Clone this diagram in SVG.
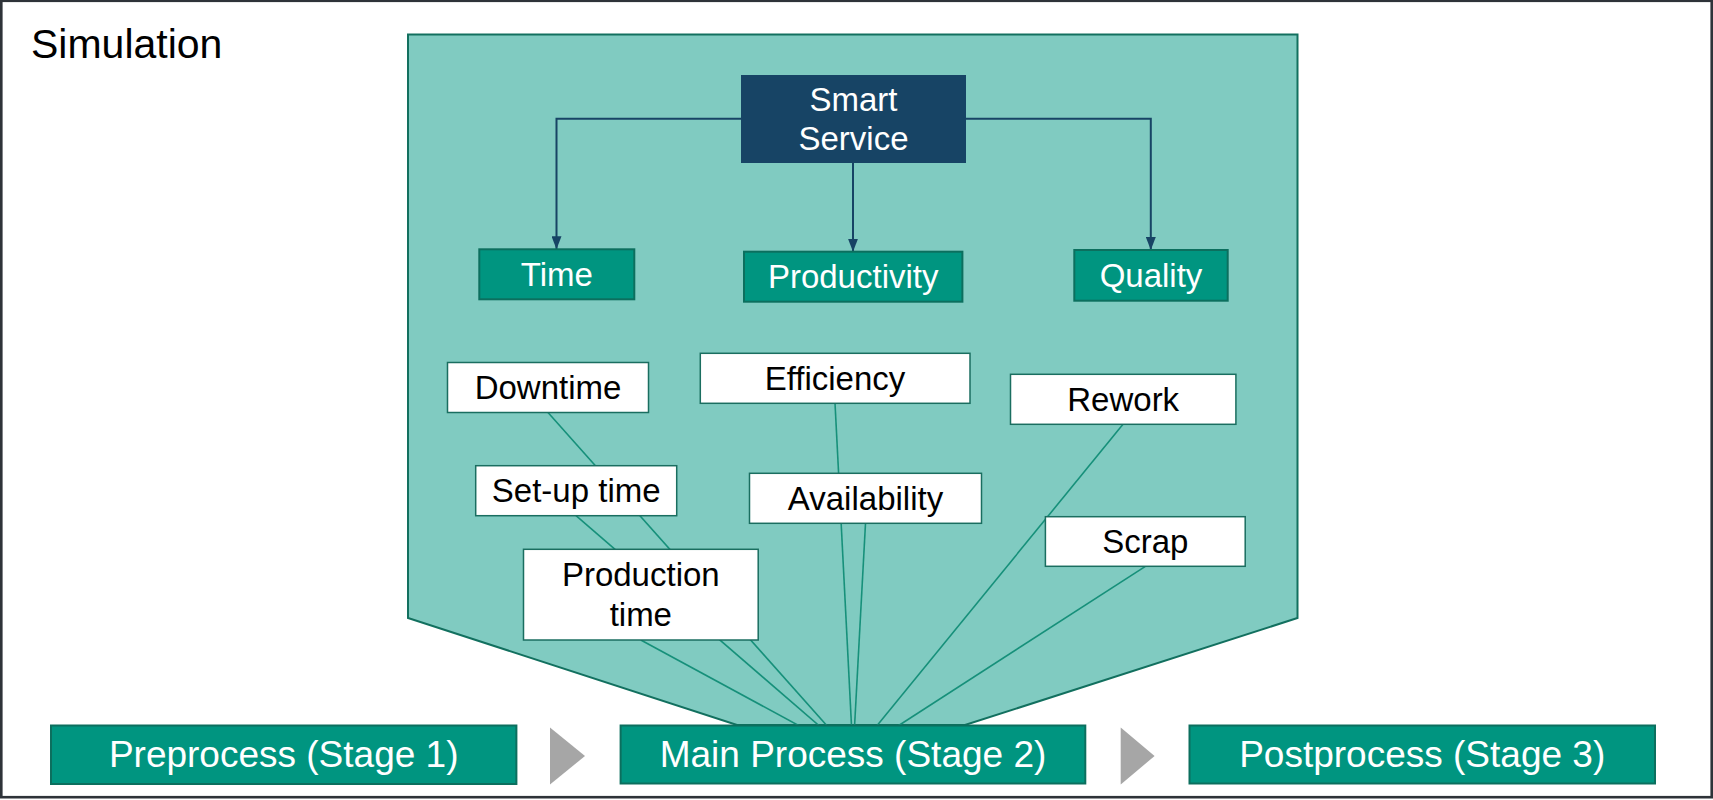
<svg xmlns="http://www.w3.org/2000/svg" width="1713" height="800" viewBox="0 0 1713 800">
  <style>
    text { font-family: "Liberation Sans", Arial, sans-serif; text-anchor: middle; }
    .title { font-size: 41px; fill: #000; text-anchor: start; }
    .lbl { font-size: 33px; }
    .wt { fill: #ffffff; }
    .bk { fill: #000000; }
    .stage { font-size: 37px; fill: #ffffff; }
    .teal { fill: #009580; stroke: #0c6f5e; stroke-width: 2; }
    .white { fill: #ffffff; stroke: #1a6e60; stroke-width: 1.5; }
    .navy { fill: #174465; }
    .conn { fill: none; stroke: #174465; stroke-width: 2; }
    .fan { fill: none; stroke: #16907a; stroke-width: 1.6; }
    .chev { fill: #a6a6a6; }
  </style>
  <defs>
    <marker id="arr" viewBox="0 0 13 10" refX="13" refY="5" markerWidth="13" markerHeight="10" markerUnits="userSpaceOnUse" orient="auto">
      <path d="M0,0 L13,5 L0,10 z" fill="#174465"/>
    </marker>
  </defs>

  <rect x="0" y="0" width="1713" height="800" fill="#ffffff"/>
  <rect x="1.3" y="0.8" width="1710.4" height="796.4" fill="none" stroke="#2e3339" stroke-width="2.6"/>

  <text class="title" x="31" y="58">Simulation</text>

  <g id="simulation-area">
    <polygon points="408,34.5 1297.5,34.5 1297.5,618 965,725 737,725 408,618" fill="#80cbc1" stroke="#12705f" stroke-width="2"/>
  </g>

  <g id="connectors">
    <path class="conn" d="M741,118.7 H556.5 V249.3" marker-end="url(#arr)"/>
    <path class="conn" d="M853,163 V251.7" marker-end="url(#arr)"/>
    <path class="conn" d="M966,118.7 H1150.8 V250" marker-end="url(#arr)"/>
    <line class="fan" x1="548" y1="412.5" x2="853" y2="755"/>
    <line class="fan" x1="576" y1="515.7" x2="853" y2="755"/>
    <line class="fan" x1="640.8" y1="640" x2="853" y2="755"/>
    <line class="fan" x1="835" y1="403" x2="853" y2="755"/>
    <line class="fan" x1="865.5" y1="523.3" x2="853" y2="755"/>
    <line class="fan" x1="1123" y1="424.3" x2="853" y2="755"/>
    <line class="fan" x1="1145.4" y1="566.3" x2="853" y2="755"/>
  </g>

  <g id="smart-service">
    <rect class="navy" x="741" y="75" width="225" height="88"/>
    <text class="lbl wt" x="853.5" y="110.5">Smart</text>
    <text class="lbl wt" x="853.5" y="150">Service</text>
  </g>

  <g id="time">
    <rect class="teal" x="479.3" y="249.3" width="155" height="50"/>
    <text class="lbl wt" x="556.8" y="285.8">Time</text>
  </g>
  <g id="productivity">
    <rect class="teal" x="744" y="251.7" width="218.4" height="50"/>
    <text class="lbl wt" x="853.2" y="288.3">Productivity</text>
  </g>
  <g id="quality">
    <rect class="teal" x="1074.3" y="250" width="153.4" height="50.7"/>
    <text class="lbl wt" x="1151" y="286.8">Quality</text>
  </g>

  <g id="downtime">
    <rect class="white" x="447.5" y="362.5" width="201" height="50"/>
    <text class="lbl bk" x="548" y="399">Downtime</text>
  </g>
  <g id="efficiency">
    <rect class="white" x="700.3" y="353.3" width="269.7" height="50"/>
    <text class="lbl bk" x="835" y="389.8">Efficiency</text>
  </g>
  <g id="rework">
    <rect class="white" x="1010.5" y="374.3" width="225.4" height="50"/>
    <text class="lbl bk" x="1123.2" y="410.8">Rework</text>
  </g>
  <g id="setup-time">
    <rect class="white" x="475.7" y="465.7" width="201" height="50"/>
    <text class="lbl bk" x="576.2" y="502">Set-up time</text>
  </g>
  <g id="availability">
    <rect class="white" x="749.5" y="473.3" width="232" height="50"/>
    <text class="lbl bk" x="865.5" y="509.8">Availability</text>
  </g>
  <g id="production-time">
    <rect class="white" x="523.5" y="549.3" width="234.7" height="90.7"/>
    <text class="lbl bk" x="640.8" y="586">Production</text>
    <text class="lbl bk" x="640.8" y="626">time</text>
  </g>
  <g id="scrap">
    <rect class="white" x="1045.4" y="516.7" width="199.8" height="49.6"/>
    <text class="lbl bk" x="1145.3" y="553">Scrap</text>
  </g>

  <g id="preprocess">
    <rect class="teal" x="51" y="725.5" width="465.4" height="58.5"/>
    <text class="stage" x="283.7" y="767">Preprocess (Stage 1)</text>
  </g>
  <polygon class="chev" points="550,727.5 585,756 550,784.5"/>
  <g id="main-process">
    <rect class="teal" x="620.6" y="725.5" width="464.7" height="58"/>
    <text class="stage" x="853" y="767">Main Process (Stage 2)</text>
  </g>
  <polygon class="chev" points="1120.7,727.5 1154.6,756 1120.7,784.5"/>
  <g id="postprocess">
    <rect class="teal" x="1189.5" y="725.5" width="465.5" height="58"/>
    <text class="stage" x="1422.2" y="767">Postprocess (Stage 3)</text>
  </g>
</svg>
